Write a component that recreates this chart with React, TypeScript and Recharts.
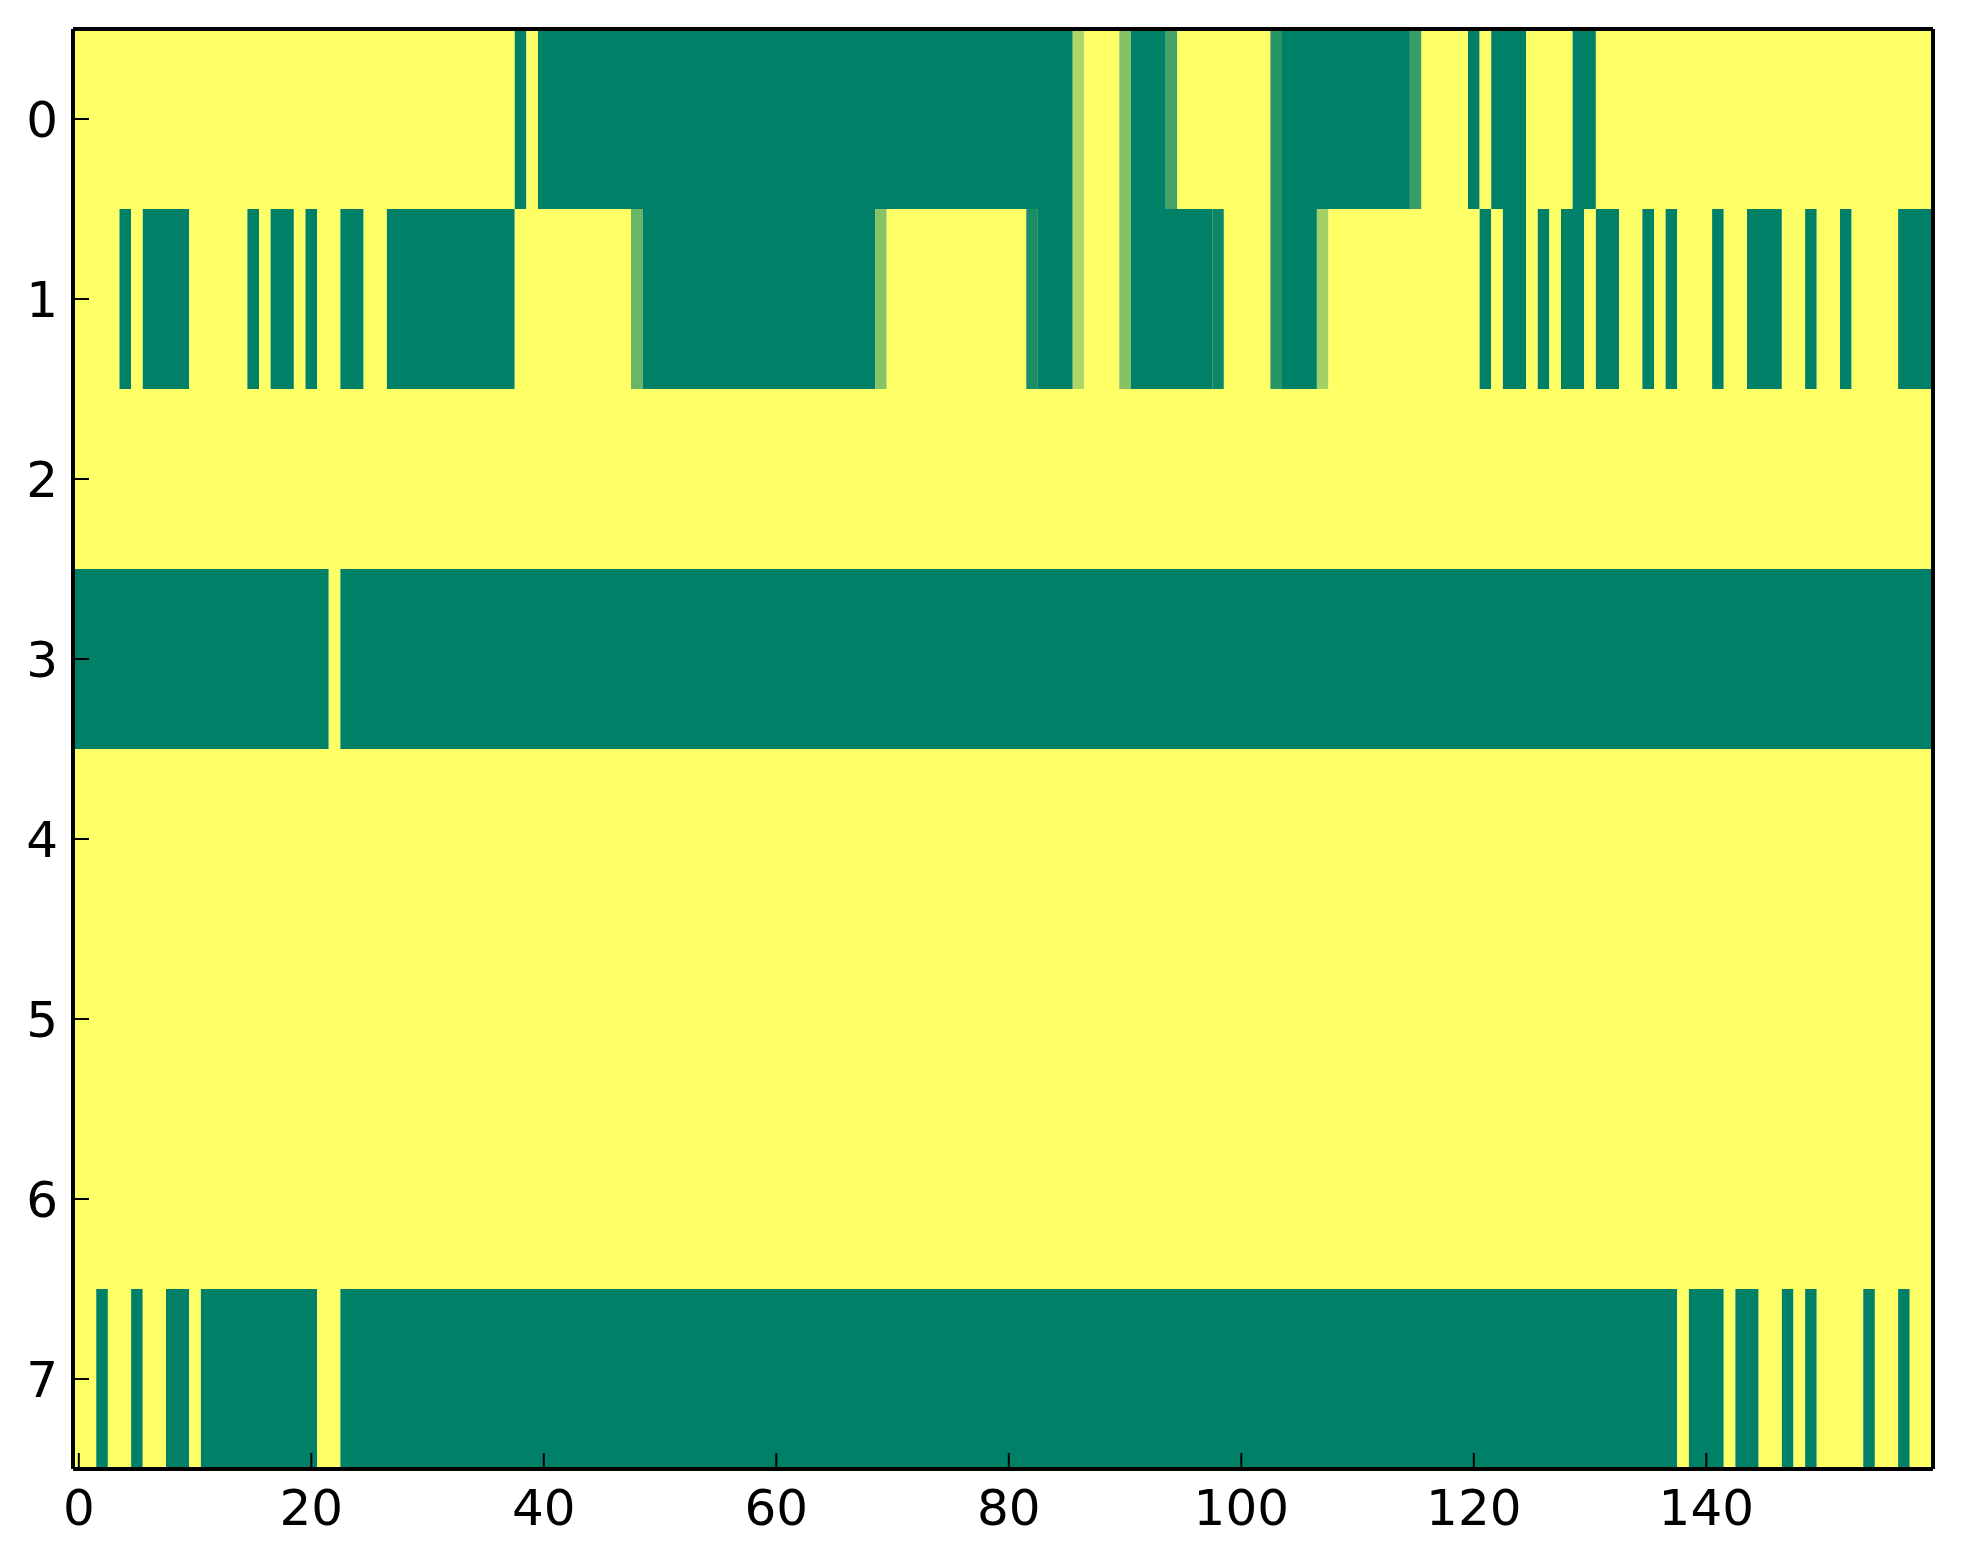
import { ScatterChart, XAxis, YAxis, ReferenceArea } from 'recharts';

// tick labels
const X_TICKS = [0, 20, 40, 60, 80, 100, 120, 140];
const Y_TICKS = [0, 1, 2, 3, 4, 5, 6, 7];

// one array per image row, 160 cells each (cols 0..159), values 0..1
const ROW_0 = [
    1, 1, 1, 1, 1, 1, 1, 1, 1, 1, 1, 1, 1, 1, 1, 1, 1, 1, 1, 1,
    1, 1, 1, 1, 1, 1, 1, 1, 1, 1, 1, 1, 1, 1, 1, 1, 1, 1, 0, 1,
    0, 0, 0, 0, 0, 0, 0, 0, 0, 0, 0, 0, 0, 0, 0, 0, 0, 0, 0, 0,
    0, 0, 0, 0, 0, 0, 0, 0, 0, 0, 0, 0, 0, 0, 0, 0, 0, 0, 0, 0,
    0, 0, 0, 0, 0, 0, 0.68, 1, 1, 1, 0.52, 0, 0, 0, 0.27, 1, 1, 1, 1, 1,
    1, 1, 1, 0.16, 0, 0, 0, 0, 0, 0, 0, 0, 0, 0, 0, 0.23, 1, 1, 1, 1,
    0, 1, 0, 0, 0, 1, 1, 1, 1, 0, 0, 1, 1, 1, 1, 1, 1, 1, 1, 1,
    1, 1, 1, 1, 1, 1, 1, 1, 1, 1, 1, 1, 1, 1, 1, 1, 1, 1, 1, 1,
];
const ROW_1 = [
    1, 1, 1, 1, 0, 1, 0, 0, 0, 0, 1, 1, 1, 1, 1, 0, 1, 0, 0, 1,
    0, 1, 1, 0, 0, 1, 1, 0, 0, 0, 0, 0, 0, 0, 0, 0, 0, 0, 1, 1,
    1, 1, 1, 1, 1, 1, 1, 1, 0.42, 0, 0, 0, 0, 0, 0, 0, 0, 0, 0, 0,
    0, 0, 0, 0, 0, 0, 0, 0, 0, 0.53, 1, 1, 1, 1, 1, 1, 1, 1, 1, 1,
    1, 1, 0.1, 0, 0, 0, 0.68, 1, 1, 1, 0.52, 0, 0, 0, 0, 0, 0, 0, 0.05, 1,
    1, 1, 1, 0.16, 0, 0, 0, 0.64, 1, 1, 1, 1, 1, 1, 1, 1, 1, 1, 1, 1,
    1, 0, 1, 0, 0, 1, 0, 1, 0, 0, 1, 0, 0, 1, 1, 0, 1, 0, 1, 1,
    1, 0, 1, 1, 0, 0, 0, 1, 1, 0, 1, 1, 0, 1, 1, 1, 1, 0, 0, 0,
];
const ROW_2 = [
    1, 1, 1, 1, 1, 1, 1, 1, 1, 1, 1, 1, 1, 1, 1, 1, 1, 1, 1, 1,
    1, 1, 1, 1, 1, 1, 1, 1, 1, 1, 1, 1, 1, 1, 1, 1, 1, 1, 1, 1,
    1, 1, 1, 1, 1, 1, 1, 1, 1, 1, 1, 1, 1, 1, 1, 1, 1, 1, 1, 1,
    1, 1, 1, 1, 1, 1, 1, 1, 1, 1, 1, 1, 1, 1, 1, 1, 1, 1, 1, 1,
    1, 1, 1, 1, 1, 1, 1, 1, 1, 1, 1, 1, 1, 1, 1, 1, 1, 1, 1, 1,
    1, 1, 1, 1, 1, 1, 1, 1, 1, 1, 1, 1, 1, 1, 1, 1, 1, 1, 1, 1,
    1, 1, 1, 1, 1, 1, 1, 1, 1, 1, 1, 1, 1, 1, 1, 1, 1, 1, 1, 1,
    1, 1, 1, 1, 1, 1, 1, 1, 1, 1, 1, 1, 1, 1, 1, 1, 1, 1, 1, 1,
];
const ROW_3 = [
    0, 0, 0, 0, 0, 0, 0, 0, 0, 0, 0, 0, 0, 0, 0, 0, 0, 0, 0, 0,
    0, 0, 1, 0, 0, 0, 0, 0, 0, 0, 0, 0, 0, 0, 0, 0, 0, 0, 0, 0,
    0, 0, 0, 0, 0, 0, 0, 0, 0, 0, 0, 0, 0, 0, 0, 0, 0, 0, 0, 0,
    0, 0, 0, 0, 0, 0, 0, 0, 0, 0, 0, 0, 0, 0, 0, 0, 0, 0, 0, 0,
    0, 0, 0, 0, 0, 0, 0, 0, 0, 0, 0, 0, 0, 0, 0, 0, 0, 0, 0, 0,
    0, 0, 0, 0, 0, 0, 0, 0, 0, 0, 0, 0, 0, 0, 0, 0, 0, 0, 0, 0,
    0, 0, 0, 0, 0, 0, 0, 0, 0, 0, 0, 0, 0, 0, 0, 0, 0, 0, 0, 0,
    0, 0, 0, 0, 0, 0, 0, 0, 0, 0, 0, 0, 0, 0, 0, 0, 0, 0, 0, 0,
];
const ROW_4 = [
    1, 1, 1, 1, 1, 1, 1, 1, 1, 1, 1, 1, 1, 1, 1, 1, 1, 1, 1, 1,
    1, 1, 1, 1, 1, 1, 1, 1, 1, 1, 1, 1, 1, 1, 1, 1, 1, 1, 1, 1,
    1, 1, 1, 1, 1, 1, 1, 1, 1, 1, 1, 1, 1, 1, 1, 1, 1, 1, 1, 1,
    1, 1, 1, 1, 1, 1, 1, 1, 1, 1, 1, 1, 1, 1, 1, 1, 1, 1, 1, 1,
    1, 1, 1, 1, 1, 1, 1, 1, 1, 1, 1, 1, 1, 1, 1, 1, 1, 1, 1, 1,
    1, 1, 1, 1, 1, 1, 1, 1, 1, 1, 1, 1, 1, 1, 1, 1, 1, 1, 1, 1,
    1, 1, 1, 1, 1, 1, 1, 1, 1, 1, 1, 1, 1, 1, 1, 1, 1, 1, 1, 1,
    1, 1, 1, 1, 1, 1, 1, 1, 1, 1, 1, 1, 1, 1, 1, 1, 1, 1, 1, 1,
];
const ROW_5 = [
    1, 1, 1, 1, 1, 1, 1, 1, 1, 1, 1, 1, 1, 1, 1, 1, 1, 1, 1, 1,
    1, 1, 1, 1, 1, 1, 1, 1, 1, 1, 1, 1, 1, 1, 1, 1, 1, 1, 1, 1,
    1, 1, 1, 1, 1, 1, 1, 1, 1, 1, 1, 1, 1, 1, 1, 1, 1, 1, 1, 1,
    1, 1, 1, 1, 1, 1, 1, 1, 1, 1, 1, 1, 1, 1, 1, 1, 1, 1, 1, 1,
    1, 1, 1, 1, 1, 1, 1, 1, 1, 1, 1, 1, 1, 1, 1, 1, 1, 1, 1, 1,
    1, 1, 1, 1, 1, 1, 1, 1, 1, 1, 1, 1, 1, 1, 1, 1, 1, 1, 1, 1,
    1, 1, 1, 1, 1, 1, 1, 1, 1, 1, 1, 1, 1, 1, 1, 1, 1, 1, 1, 1,
    1, 1, 1, 1, 1, 1, 1, 1, 1, 1, 1, 1, 1, 1, 1, 1, 1, 1, 1, 1,
];
const ROW_6 = [
    1, 1, 1, 1, 1, 1, 1, 1, 1, 1, 1, 1, 1, 1, 1, 1, 1, 1, 1, 1,
    1, 1, 1, 1, 1, 1, 1, 1, 1, 1, 1, 1, 1, 1, 1, 1, 1, 1, 1, 1,
    1, 1, 1, 1, 1, 1, 1, 1, 1, 1, 1, 1, 1, 1, 1, 1, 1, 1, 1, 1,
    1, 1, 1, 1, 1, 1, 1, 1, 1, 1, 1, 1, 1, 1, 1, 1, 1, 1, 1, 1,
    1, 1, 1, 1, 1, 1, 1, 1, 1, 1, 1, 1, 1, 1, 1, 1, 1, 1, 1, 1,
    1, 1, 1, 1, 1, 1, 1, 1, 1, 1, 1, 1, 1, 1, 1, 1, 1, 1, 1, 1,
    1, 1, 1, 1, 1, 1, 1, 1, 1, 1, 1, 1, 1, 1, 1, 1, 1, 1, 1, 1,
    1, 1, 1, 1, 1, 1, 1, 1, 1, 1, 1, 1, 1, 1, 1, 1, 1, 1, 1, 1,
];
const ROW_7 = [
    1, 1, 0, 1, 1, 0, 1, 1, 0, 0, 1, 0, 0, 0, 0, 0, 0, 0, 0, 0,
    0, 1, 1, 0, 0, 0, 0, 0, 0, 0, 0, 0, 0, 0, 0, 0, 0, 0, 0, 0,
    0, 0, 0, 0, 0, 0, 0, 0, 0, 0, 0, 0, 0, 0, 0, 0, 0, 0, 0, 0,
    0, 0, 0, 0, 0, 0, 0, 0, 0, 0, 0, 0, 0, 0, 0, 0, 0, 0, 0, 0,
    0, 0, 0, 0, 0, 0, 0, 0, 0, 0, 0, 0, 0, 0, 0, 0, 0, 0, 0, 0,
    0, 0, 0, 0, 0, 0, 0, 0, 0, 0, 0, 0, 0, 0, 0, 0, 0, 0, 0, 0,
    0, 0, 0, 0, 0, 0, 0, 0, 0, 0, 0, 0, 0, 0, 0, 0, 0, 0, 1, 0,
    0, 0, 1, 0, 0, 1, 1, 0, 1, 0, 1, 1, 1, 1, 0, 1, 1, 0, 1, 1,
];

const ROWS = [ROW_0, ROW_1, ROW_2, ROW_3, ROW_4, ROW_5, ROW_6, ROW_7];

// matplotlib "summer" colormap
const summer = (v: number) => {
    const r = Math.round(255 * v);
    const g = Math.round(255 * (0.5 + 0.5 * v));
    return `rgb(${r},${g},102)`;
};

// merge equal neighbours in a row so adjacent cells don't leave seams
const runs = ROWS.flatMap((row, r) => {
    const out: { row: number, from: number, to: number, value: number }[] = [];
    let start = 0;
    for (let c = 1; c <= row.length; c++) {
        if (c === row.length || row[c] !== row[start]) {
            out.push({ row: r, from: start, to: c - 1, value: row[start] });
            start = c;
        }
    }
    return out;
});

const FONT = { fill: '#000', fontSize: 50, fontFamily: 'DejaVu Sans' };
const AXIS_LINE = { stroke: '#000', strokeWidth: 4 };
const TICK_LINE = { stroke: '#000', strokeWidth: 2 };

export default function App() {
    return (
        <div style={{ position: 'absolute', left: 0, top: 0, width: 1963, height: 1564, background: '#fff' }}>
            <ScatterChart width={1963} height={1564} margin={{ top: 0, right: 0, bottom: 0, left: 0 }}>
                {runs.map((run, i) => (
                    <ReferenceArea
                        key={`cell-${i}`}
                        x1={run.from - 0.5}
                        x2={run.to + 0.5}
                        y1={run.row - 0.5}
                        y2={run.row + 0.5}
                        fill={summer(run.value)}
                        fillOpacity={1}
                        stroke="none"
                        ifOverflow="visible"
                    />
                ))}
                <XAxis
                    type="number"
                    dataKey="x"
                    domain={[-0.5, 159.5]}
                    allowDataOverflow
                    ticks={X_TICKS}
                    interval={0}
                    height={95}
                    tickSize={-16}
                    tickMargin={36}
                    axisLine={AXIS_LINE}
                    tickLine={TICK_LINE}
                    tick={FONT}
                />
                <XAxis
                    xAxisId="top"
                    orientation="top"
                    type="number"
                    dataKey="x"
                    domain={[-0.5, 159.5]}
                    allowDataOverflow
                    ticks={X_TICKS}
                    interval={0}
                    height={29}
                    tickSize={-16}
                    axisLine={AXIS_LINE}
                    tickLine={TICK_LINE}
                    tick={false}
                />
                <YAxis
                    type="number"
                    dataKey="y"
                    domain={[-0.5, 7.5]}
                    allowDataOverflow
                    reversed
                    ticks={Y_TICKS}
                    interval={0}
                    width={73}
                    tickSize={-16}
                    tickMargin={31}
                    axisLine={AXIS_LINE}
                    tickLine={TICK_LINE}
                    tick={FONT}
                />
                <YAxis
                    yAxisId="right"
                    orientation="right"
                    type="number"
                    dataKey="y"
                    domain={[-0.5, 7.5]}
                    allowDataOverflow
                    reversed
                    ticks={Y_TICKS}
                    interval={0}
                    width={30}
                    tickSize={-16}
                    axisLine={AXIS_LINE}
                    tickLine={TICK_LINE}
                    tick={false}
                />
            </ScatterChart>
        </div>
    );
}
